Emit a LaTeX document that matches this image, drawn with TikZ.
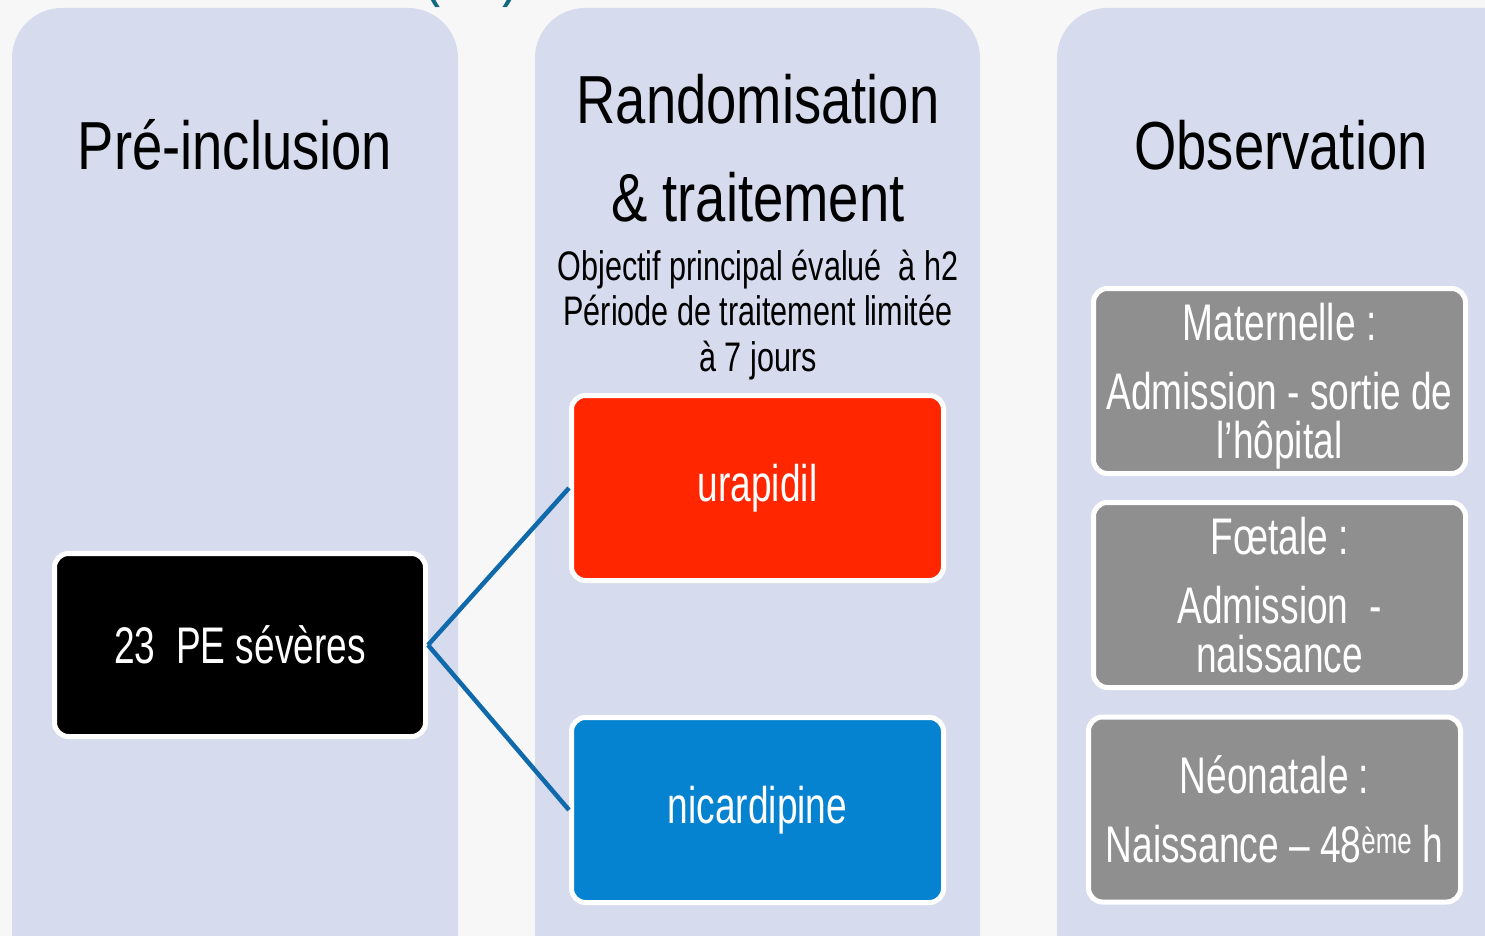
\documentclass[tikz,border=0pt]{standalone}
\usepackage{fontspec}
\setmainfont{Liberation Sans}[FakeStretch=0.8]
\newfontfamily\boxfamily{Liberation Sans}[FakeStretch=0.72]
\newfontfamily\notefamily{Liberation Sans}[FakeStretch=0.74]
\usetikzlibrary{positioning}

\definecolor{pagebg}{HTML}{F7F7F7}
\definecolor{panelbg}{HTML}{D6DCEE}
\definecolor{urared}{HTML}{FF2600}
\definecolor{nicblue}{HTML}{0683D0}
\definecolor{obsgray}{HTML}{8F8F8F}
\definecolor{linkblue}{HTML}{0F69AA}
\definecolor{headteal}{HTML}{11697F}

\newcommand\fsHead{\fontsize{68}{98}\selectfont}
\newcommand\fsNote{\notefamily\fontsize{41.3}{45.5}\selectfont}
\newcommand\fsBox{\boxfamily\fontsize{51.5}{49}\selectfont}

\begin{document}
\begin{tikzpicture}[x=1pt,y=-1pt,
  panel/.style={fill=panelbg,rounded corners=50},
  head/.style={anchor=base,font=\fsHead,text=black,inner sep=0},
  box/.style={rounded corners=14,draw=white,line width=5,text=white,
    minimum width=372,minimum height=185,align=center,inner sep=0,font=\fsBox},
  link/.style={draw=linkblue,line width=4.5}]

  \useasboundingbox (0,0) rectangle (1485,936);
  \fill[pagebg] (0,0) rectangle (1485,936);

  % title, cut off at the top
  \node[anchor=base,font=\fsHead,text=headteal] (ttl) at (472,-6) {(\hspace{62pt})};

  % panels
  \fill[panel] (12,8) rectangle (458,990);
  \fill[panel] (535,8) rectangle (980,990);
  \fill[panel] (1057,8) rectangle (1540,990);

  % Pre-inclusion

  \node[head] (hpre) at (235,170) {Pré-inclusion};
  \node[box,fill=black,minimum width=371,minimum height=183] (pre) at (240,645)
    {23~~PE sévères};

  % Randomisation

  \node[head] (hran) at (758,124) {Randomisation};
  \node[head] (htrt) at (758,222) {\& traitement};
  \node[anchor=base,font=\fsNote,align=center,inner sep=0] (note) at (758,371)
    {Objectif principal évalué~~à h2\\ Période de traitement limitée\\ à 7 jours};
  \node[box,fill=urared] (ura) at (757.5,488) {urapidil};
  \node[box,fill=nicblue] (nic) at (757.5,810) {nicardipine};

  \draw[link] (pre.east) -- (ura.west);
  \draw[link] (pre.east) -- (nic.west);

  % Observation

  \node[box,fill=obsgray,text depth=0pt] (mat) at (1279.5,381)
    {Maternelle :\\[20pt] Admission - sortie de\\ l’hôpital};
  \node[head] (hobs) at (1281,170) {Observation};
  \node[box,fill=obsgray] (foe) at (1279.5,595)
    {Fœtale :\\[20pt] Admission~~-\\ naissance};
  \node[box,fill=obsgray] (neo) at (1274.5,809.5)
    {Néonatale :\\[20pt] Naissance – 48\textsuperscript{ème} h};
\end{tikzpicture}
\end{document}
